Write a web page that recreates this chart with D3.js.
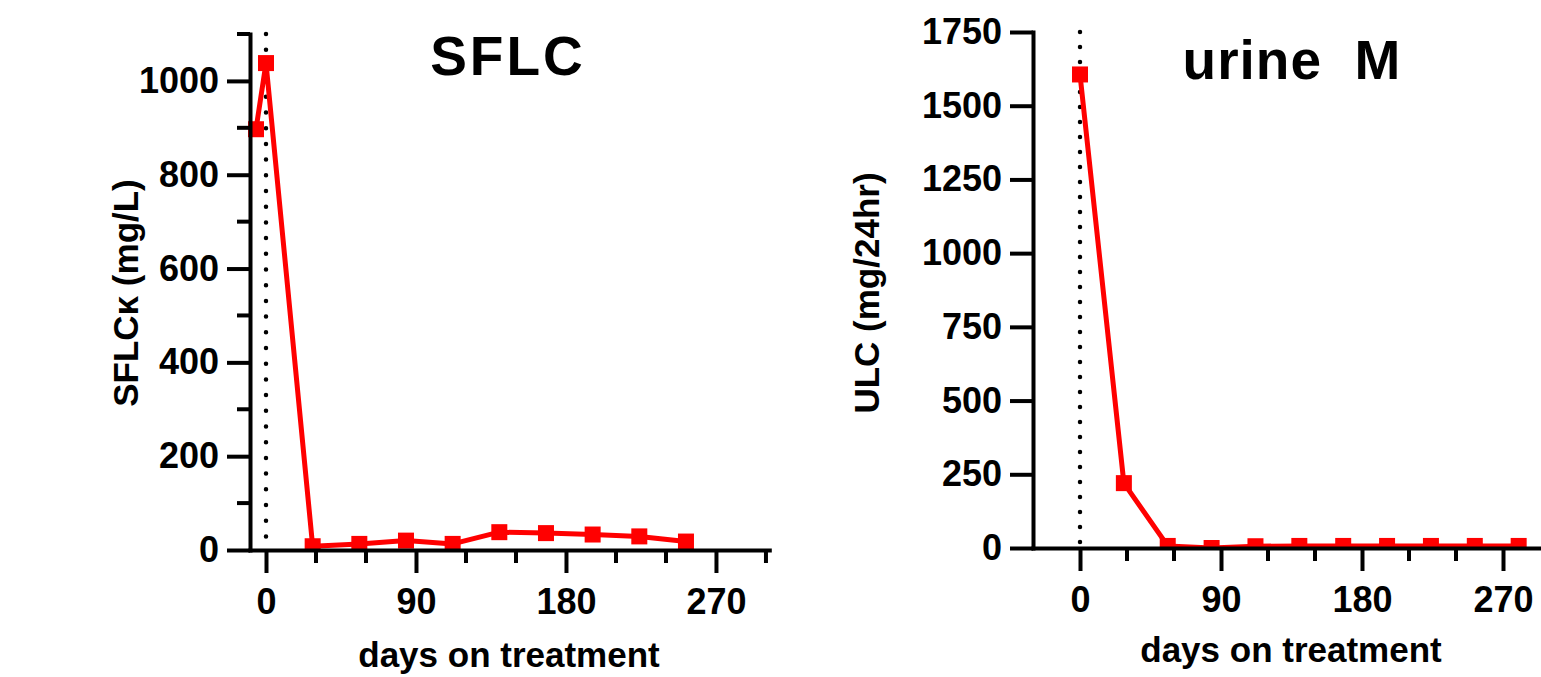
<!DOCTYPE html>
<html>
<head>
<meta charset="utf-8">
<script src="https://cdn.jsdelivr.net/npm/d3@7"></script>
<style>
  body { margin: 0; background: #fff; }
  svg { display: block; }
  text { font-family: "Liberation Sans", Arial, sans-serif; font-weight: bold; fill: #000; }
</style>
</head>
<body>
<div></div>
<script>
// ===== data =====
var sflcDays = [-6, 0, 28, 56, 84, 112, 140, 168, 196, 224, 252];
var sflcValues = [897, 1038, 8, 13, 20, 13, 38, 36, 33, 29, 18];

var urineDays = [0, 28, 56, 84, 112, 140, 168, 196, 224, 252, 280];
var urineValues = [1606, 220, 7, 0, 6, 7, 7, 7, 7, 7, 7];

var sflcYMajor = [0, 200, 400, 600, 800, 1000];
var sflcYMinor = [100, 300, 500, 700, 900, 1100];
var urineYMajor = [0, 250, 500, 750, 1000, 1250, 1500, 1750];
var xMajor = [0, 90, 180, 270];
var sflcXMinor = [30, 60, 120, 150, 210, 240, 300];
var urineXMinor = [30, 60, 120, 150, 210, 240];

var width = 1541;
var height = 677;

var svg = d3
  .select("body")
  .select("div")
  .append("svg")
  .attr("width", width)
  .attr("height", height);

function panel(opt) {
  var xScale = d3.scaleLinear().domain(opt.xDomain).range(opt.xRange);
  var yScale = d3.scaleLinear().domain(opt.yDomain).range(opt.yRange);
  var g = svg.append("g");

  // clip data at the x axis, like the original
  svg
    .append("clipPath")
    .attr("id", opt.id + "-clip")
    .append("rect")
    .attr("x", opt.xRange[0] - 20)
    .attr("y", 0)
    .attr("width", width)
    .attr("height", yScale(0));

  // dotted line at day 0
  g.append("line")
    .attr("x1", xScale(0))
    .attr("x2", xScale(0))
    .attr("y1", yScale(opt.yDomain[1]))
    .attr("y2", yScale(0))
    .attr("stroke", "#000")
    .attr("stroke-width", 4.5)
    .attr("stroke-linecap", "round")
    .attr("stroke-dasharray", "0," + opt.dotGap);

  var points = opt.days.map(function(d, i) {
    return { day: d, value: opt.values[i] };
  });

  var line = d3
    .line()
    .x(function(d) { return xScale(d.day); })
    .y(function(d) { return yScale(d.value); });

  var dataG = g.append("g").attr("clip-path", "url(#" + opt.id + "-clip)");
  dataG
    .append("path")
    .attr("d", line(points))
    .attr("fill", "none")
    .attr("stroke", "#ff0000")
    .attr("stroke-width", 5)
    .attr("stroke-linejoin", "round");

  dataG
    .selectAll("rect")
    .data(points)
    .enter()
    .append("rect")
    .attr("x", function(d) { return xScale(d.day) - 8; })
    .attr("y", function(d) { return yScale(d.value) - 8; })
    .attr("width", 16)
    .attr("height", 16)
    .attr("fill", "#ff0000");

  // axes (no outer ticks)
  var xAxis = d3.axisBottom(xScale).tickValues(xMajor).tickSize(23).tickSizeOuter(0)
    .tickPadding(15).tickFormat(d3.format("d"));
  var xG = g.append("g").attr("transform", "translate(0," + yScale(0) + ")").call(xAxis);
  opt.xMinor.forEach(function(d) {
    xG.append("line").attr("class", "minor")
      .attr("x1", xScale(d)).attr("x2", xScale(d))
      .attr("y1", 0).attr("y2", 13);
  });

  var yAxis = d3.axisLeft(yScale).tickValues(opt.yMajor).tickSize(23).tickSizeOuter(0)
    .tickPadding(8).tickFormat(d3.format("d"));
  var yG = g.append("g").attr("transform", "translate(" + opt.xRange[0] + ",0)").call(yAxis);
  opt.yMinor.forEach(function(d) {
    yG.append("line").attr("class", "minor")
      .attr("x1", 0).attr("x2", -13)
      .attr("y1", yScale(d)).attr("y2", yScale(d));
  });

  g.selectAll(".domain")
    .attr("stroke", "#000")
    .attr("stroke-width", 4)
    .attr("stroke-linecap", "square");
  g.selectAll(".tick line, line.minor")
    .attr("stroke", "#000")
    .attr("stroke-width", 4);
  g.selectAll(".tick text")
    .style("font-size", "36px")
    .style("font-family", '"Liberation Sans", Arial, sans-serif')
    .style("font-weight", "bold")
    .attr("fill", "#000");

  // titles
  g.append("text")
    .attr("x", opt.titleX)
    .attr("y", opt.titleY)
    .attr("text-anchor", "middle")
    .style("font-size", "55px")
    .style("letter-spacing", opt.titleSpacing)
    .style("white-space", "pre")
    .text(opt.title);

  g.append("text")
    .attr("x", opt.xTitleX)
    .attr("y", opt.xTitleY)
    .attr("text-anchor", "middle")
    .style("font-size", "35px")
    .text("days on treatment");

  g.append("text")
    .attr("transform", "translate(" + opt.yTitleX + "," + opt.yTitleY + ") rotate(-90)")
    .attr("text-anchor", "middle")
    .style("font-size", "35px")
    .text(opt.yTitle);
}

panel({
  id: "sflc",
  days: sflcDays,
  values: sflcValues,
  xDomain: [-9.6, 302],
  xRange: [250, 769.3],
  yDomain: [0, 1100],
  yRange: [550, 34],
  yMajor: sflcYMajor,
  yMinor: sflcYMinor,
  xMinor: sflcXMinor,
  dotGap: 15.7,
  title: "SFLC",
  titleX: 508,
  titleY: 75,
  titleSpacing: "3px",
  xTitleX: 509,
  xTitleY: 667,
  yTitle: "SFLCκ (mg/L)",
  yTitleX: 138,
  yTitleY: 293
});

panel({
  id: "urine",
  days: urineDays,
  values: urineValues,
  xDomain: [-30, 300],
  xRange: [1033, 1550],
  yDomain: [0, 1750],
  yRange: [548, 32],
  yMajor: urineYMajor,
  yMinor: [],
  xMinor: urineXMinor,
  dotGap: 15,
  title: "urine  M",
  titleX: 1292,
  titleY: 79,
  titleSpacing: "1px",
  xTitleX: 1291,
  xTitleY: 662,
  yTitle: "ULC (mg/24hr)",
  yTitleX: 879,
  yTitleY: 293
});
</script>
</body>
</html>
